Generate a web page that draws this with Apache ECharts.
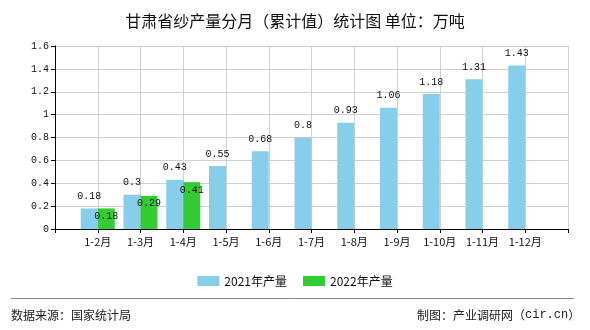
<!DOCTYPE html>
<html>
<head>
<meta charset="utf-8">
<script src="https://cdn.jsdelivr.net/npm/echarts@6/dist/echarts.min.js"></script>
<style>
  html, body { margin: 0; padding: 0; background: #fff; }
  #chart { width: 590px; height: 330px; }
</style>
</head>
<body>
<div id="chart"></div>
<script>
// Month ranges (blank slots at both ends pad the axis)
const categories = ['', '1-2月', '1-3月', '1-4月', '1-5月', '1-6月', '1-7月', '1-8月', '1-9月', '1-10月', '1-11月', '1-12月', ''];
// Cumulative output, 10k tonnes
const output2021 = [null, 0.18, 0.3, 0.43, 0.55, 0.68, 0.8, 0.93, 1.06, 1.18, 1.31, 1.43, null];
const output2022 = [null, 0.18, 0.29, 0.41, null, null, null, null, null, null, null, null, null];
const seriesNames = ['2021年产量', '2022年产量'];
const yTicks = { min: 0, max: 1.6, interval: 0.2 };

const cjk = '"Noto Sans CJK SC", "Noto Sans", sans-serif';
const mono = '"Liberation Mono", "DejaVu Sans Mono", monospace';

const chart = echarts.init(document.getElementById('chart'), null, { renderer: 'canvas' });
chart.setOption({
  animation: false,
  backgroundColor: '#ffffff',
  title: {
    text: '甘肃省纱产量分月（累计值）统计图 单位：万吨',
    left: 'center',
    top: 8,
    textStyle: { fontFamily: cjk, fontSize: 16, fontWeight: 'normal', color: '#111' }
  },
  legend: {
    top: 270,
    left: 'center',
    itemWidth: 22,
    itemHeight: 10,
    itemGap: 16,
    icon: 'rect',
    textStyle: { fontFamily: cjk, fontSize: 12, color: '#111' },
    data: seriesNames
  },
  grid: { left: 55, right: 22, top: 46, bottom: 101, containLabel: false },
  xAxis: {
    type: 'category',
    data: categories,
    boundaryGap: false,
    axisLine: { lineStyle: { color: '#000', width: 1 } },
    axisTick: { show: true, interval: 0, length: 4, lineStyle: { color: '#000' } },
    axisLabel: { interval: 0, margin: 7, fontFamily: cjk, fontSize: 11, color: '#111' },
    splitLine: { show: true, interval: 0, lineStyle: { color: '#d0d0d0', width: 1 } }
  },
  yAxis: {
    type: 'value',
    min: yTicks.min,
    max: yTicks.max,
    interval: yTicks.interval,
    axisLine: { show: true, lineStyle: { color: '#000', width: 1 } },
    axisTick: { show: true, length: 4, lineStyle: { color: '#000' } },
    axisLabel: { margin: 6, fontFamily: mono, fontSize: 10, color: '#111' },
    splitLine: { show: true, lineStyle: { color: '#d0d0d0', width: 1 } }
  },
  series: [
    {
      name: seriesNames[0],
      type: 'bar',
      data: output2021,
      barWidth: 17,
      barGap: '0%',
      itemStyle: { color: '#87CEEB' },
      label: {
        show: true, position: 'top', distance: 7,
        fontFamily: mono, fontSize: 10, color: '#111'
      }
    },
    {
      name: seriesNames[1],
      type: 'bar',
      data: output2022,
      barWidth: 17,
      barGap: '0%',
      itemStyle: { color: '#33CC33' },
      label: {
        show: true, position: 'insideTop', distance: 3,
        fontFamily: mono, fontSize: 10, color: '#111'
      }
    }
  ],
  graphic: [
    {
      type: 'line',
      shape: { x1: 11, y1: 298.5, x2: 574, y2: 298.5 },
      style: { stroke: '#888', lineWidth: 1 }
    },
    {
      type: 'text',
      left: 11, top: 309,
      style: { text: '数据来源：国家统计局', fontFamily: cjk, fontSize: 12, fill: '#222' }
    },
    {
      type: 'text',
      left: 417, top: 309,
      style: {
        text: '{a|制图：产业调研网（}{b|cir.cn}{a|）}',
        rich: {
          a: { fontFamily: cjk, fontSize: 12, fill: '#222', color: '#222' },
          b: { fontFamily: mono, fontSize: 12, fill: '#222', color: '#222' }
        }
      }
    }
  ]
});
</script>
</body>
</html>
